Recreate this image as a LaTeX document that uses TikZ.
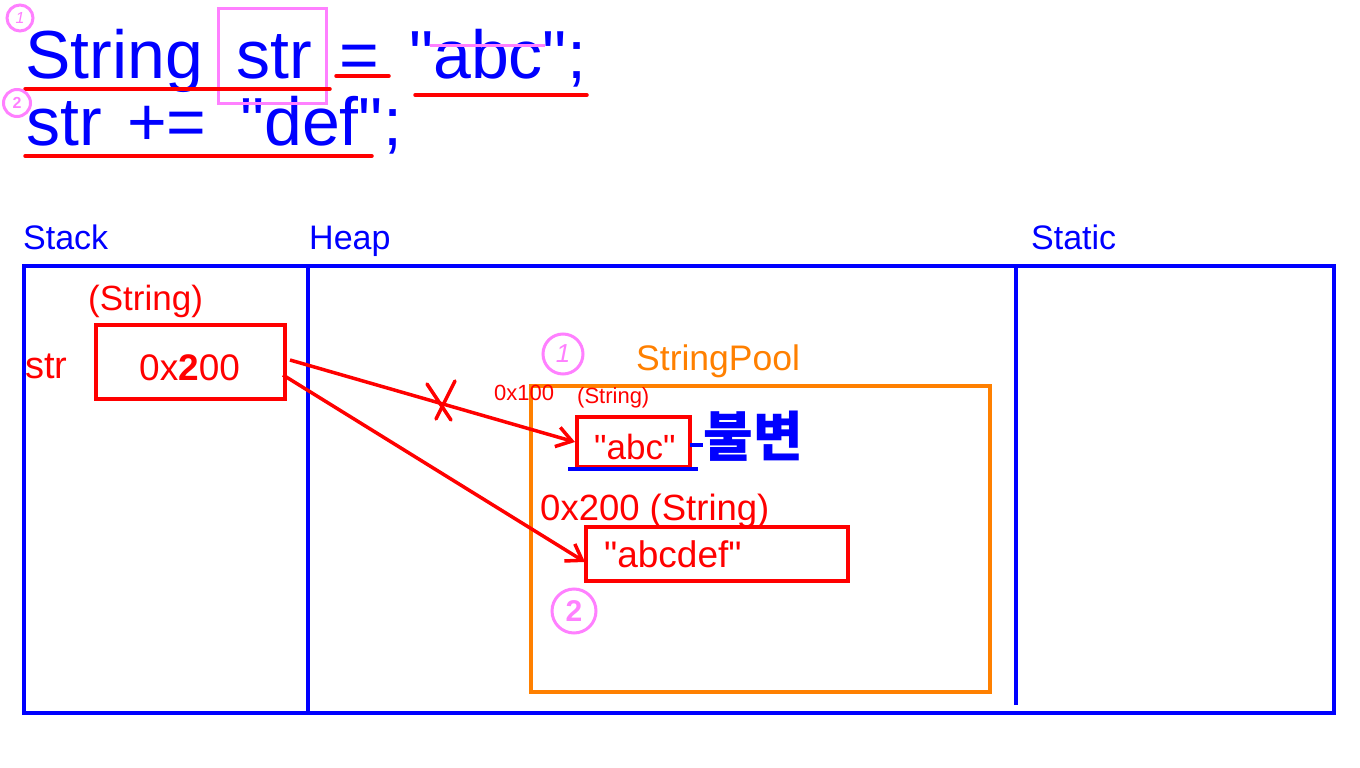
\documentclass[tikz,border=0pt]{standalone}
\usepackage{fontspec}
\setmainfont{Liberation Sans}[Ligatures=TeXOff]
\newfontfamily\krfont{Noto Sans CJK KR}
\usetikzlibrary{arrows.meta}
\definecolor{cblue}{RGB}{0,0,255}
\definecolor{cred}{RGB}{255,0,0}
\definecolor{cpink}{RGB}{255,128,255}
\definecolor{corange}{RGB}{255,128,0}
\begin{document}
\begin{tikzpicture}[x=1pt,y=-1pt,
  txt/.style={inner sep=0pt,anchor=base west,font=\fontsize{#1}{#1}\selectfont},
  code/.style={txt=68,text=cblue},
  lbl/.style={txt=34,text=cblue},
  rtxt/.style={txt=#1,text=cred},
  bluebox/.style={draw=cblue,line width=4pt},
  redbox/.style={draw=cred,line width=4pt},
  pinkmark/.style={draw=cpink,line width=3pt},
  redmark/.style={draw=cred,line width=3.5pt,line cap=round},
  ptr/.style={draw=cred,line width=3.5pt,-{Straight Barb[length=15pt,width=20pt,line width=3.5pt]}},
  num/.style={circle,draw=cpink,line width=3pt,text=cpink,inner sep=0pt,minimum size=#1}]
\useasboundingbox (0,0) rectangle (1360,768);
\fill[white] (0,0) rectangle (1360,768);

% code lines
\node[code] (c1a) at (25,78) {String};
\node[code] (c1b) at (236,78) {str};
\node[code] (c1c) at (339,78) {=};
\node[code] (c1d) at (409,78) {"abc";};
\node[code] (c2a) at (26,145) {str};
\node[code] (c2b) at (127,145) {+=};
\node[code] (c2c) at (240,145) {"def";};
\draw[pinkmark] (218,9) rectangle (326,103);
\draw[pinkmark] (430,46) -- (545,46);
\draw[redmark] (25,89) -- (330,89);
\draw[redmark] (336,76) -- (389,76);
\draw[redmark] (415,95) -- (587,95);
\draw[redmark] (25,156) -- (372,156);
\node[num=26pt,font=\fontsize{16}{16}\selectfont\itshape] (n1) at (20,18) {1};
\node[num=27pt,font=\fontsize{16}{16}\selectfont\bfseries] (n2) at (17,103) {2};

% memory areas
\node[lbl] (lstack) at (23,249) {Stack};
\node[lbl] (lheap) at (309,249) {Heap};
\node[lbl] (lstatic) at (1031,249) {Static};
\draw[bluebox] (24,266) rectangle (1334,713);
\draw[bluebox] (308,266) -- (308,713);
\draw[bluebox] (1016,266) -- (1016,705);

% stack
\node[rtxt=35] (sty) at (88,310) {(String)};
\node[rtxt=38] (sname) at (25,378) {str};
\draw[redbox] (96,325) rectangle (285,399);
\node[rtxt=37] (sval) at (139,380) {0x\textbf{2}00};
\coordinate (p1) at (290,360);
\coordinate (p2) at (283,375);

% string pool
\draw[draw=corange,line width=4pt] (531,386) rectangle (990,692);
\node[txt=35.5,text=corange] (lpool) at (636,370) {StringPool};
\node[num=40pt,font=\fontsize{26}{26}\selectfont\itshape] (n3) at (563,354) {1};
\node[rtxt=22] (a1) at (494,400) {0x100};
\node[rtxt=22] (a1t) at (577,403) {(String)};
\draw[redbox] (577,417) rectangle (690,467);
\node[rtxt=35] (vabc) at (594,459) {"abc"};
\coordinate (abcin) at (575,442);
\draw[draw=cblue,line width=4pt] (568,469) -- (698,469);
\draw[draw=cblue,line width=4pt] (690,445) -- (703,445);
\node[inner sep=0pt,text=cblue,font=\krfont\bfseries\fontsize{54}{54}\selectfont] (imm) at (753,436) {불변};
\node[rtxt=36.5] (a2) at (540,520) {0x200 (String)};
\draw[redbox] (586,527) rectangle (848,581);
\node[rtxt=37] (vabcdef) at (604,567) {"abcdef"};
\coordinate (abcdefin) at (585,562);
\node[num=44pt,font=\fontsize{30}{30}\selectfont\bfseries] (n4) at (574,611) {2};

% pointers
\draw[ptr] (p1) -- (abcin);
\draw[ptr] (p2) -- (abcdefin);
\draw[redmark] (427,384) -- (451,420);
\draw[redmark] (455,381) -- (436,419);
\end{tikzpicture}
\end{document}
